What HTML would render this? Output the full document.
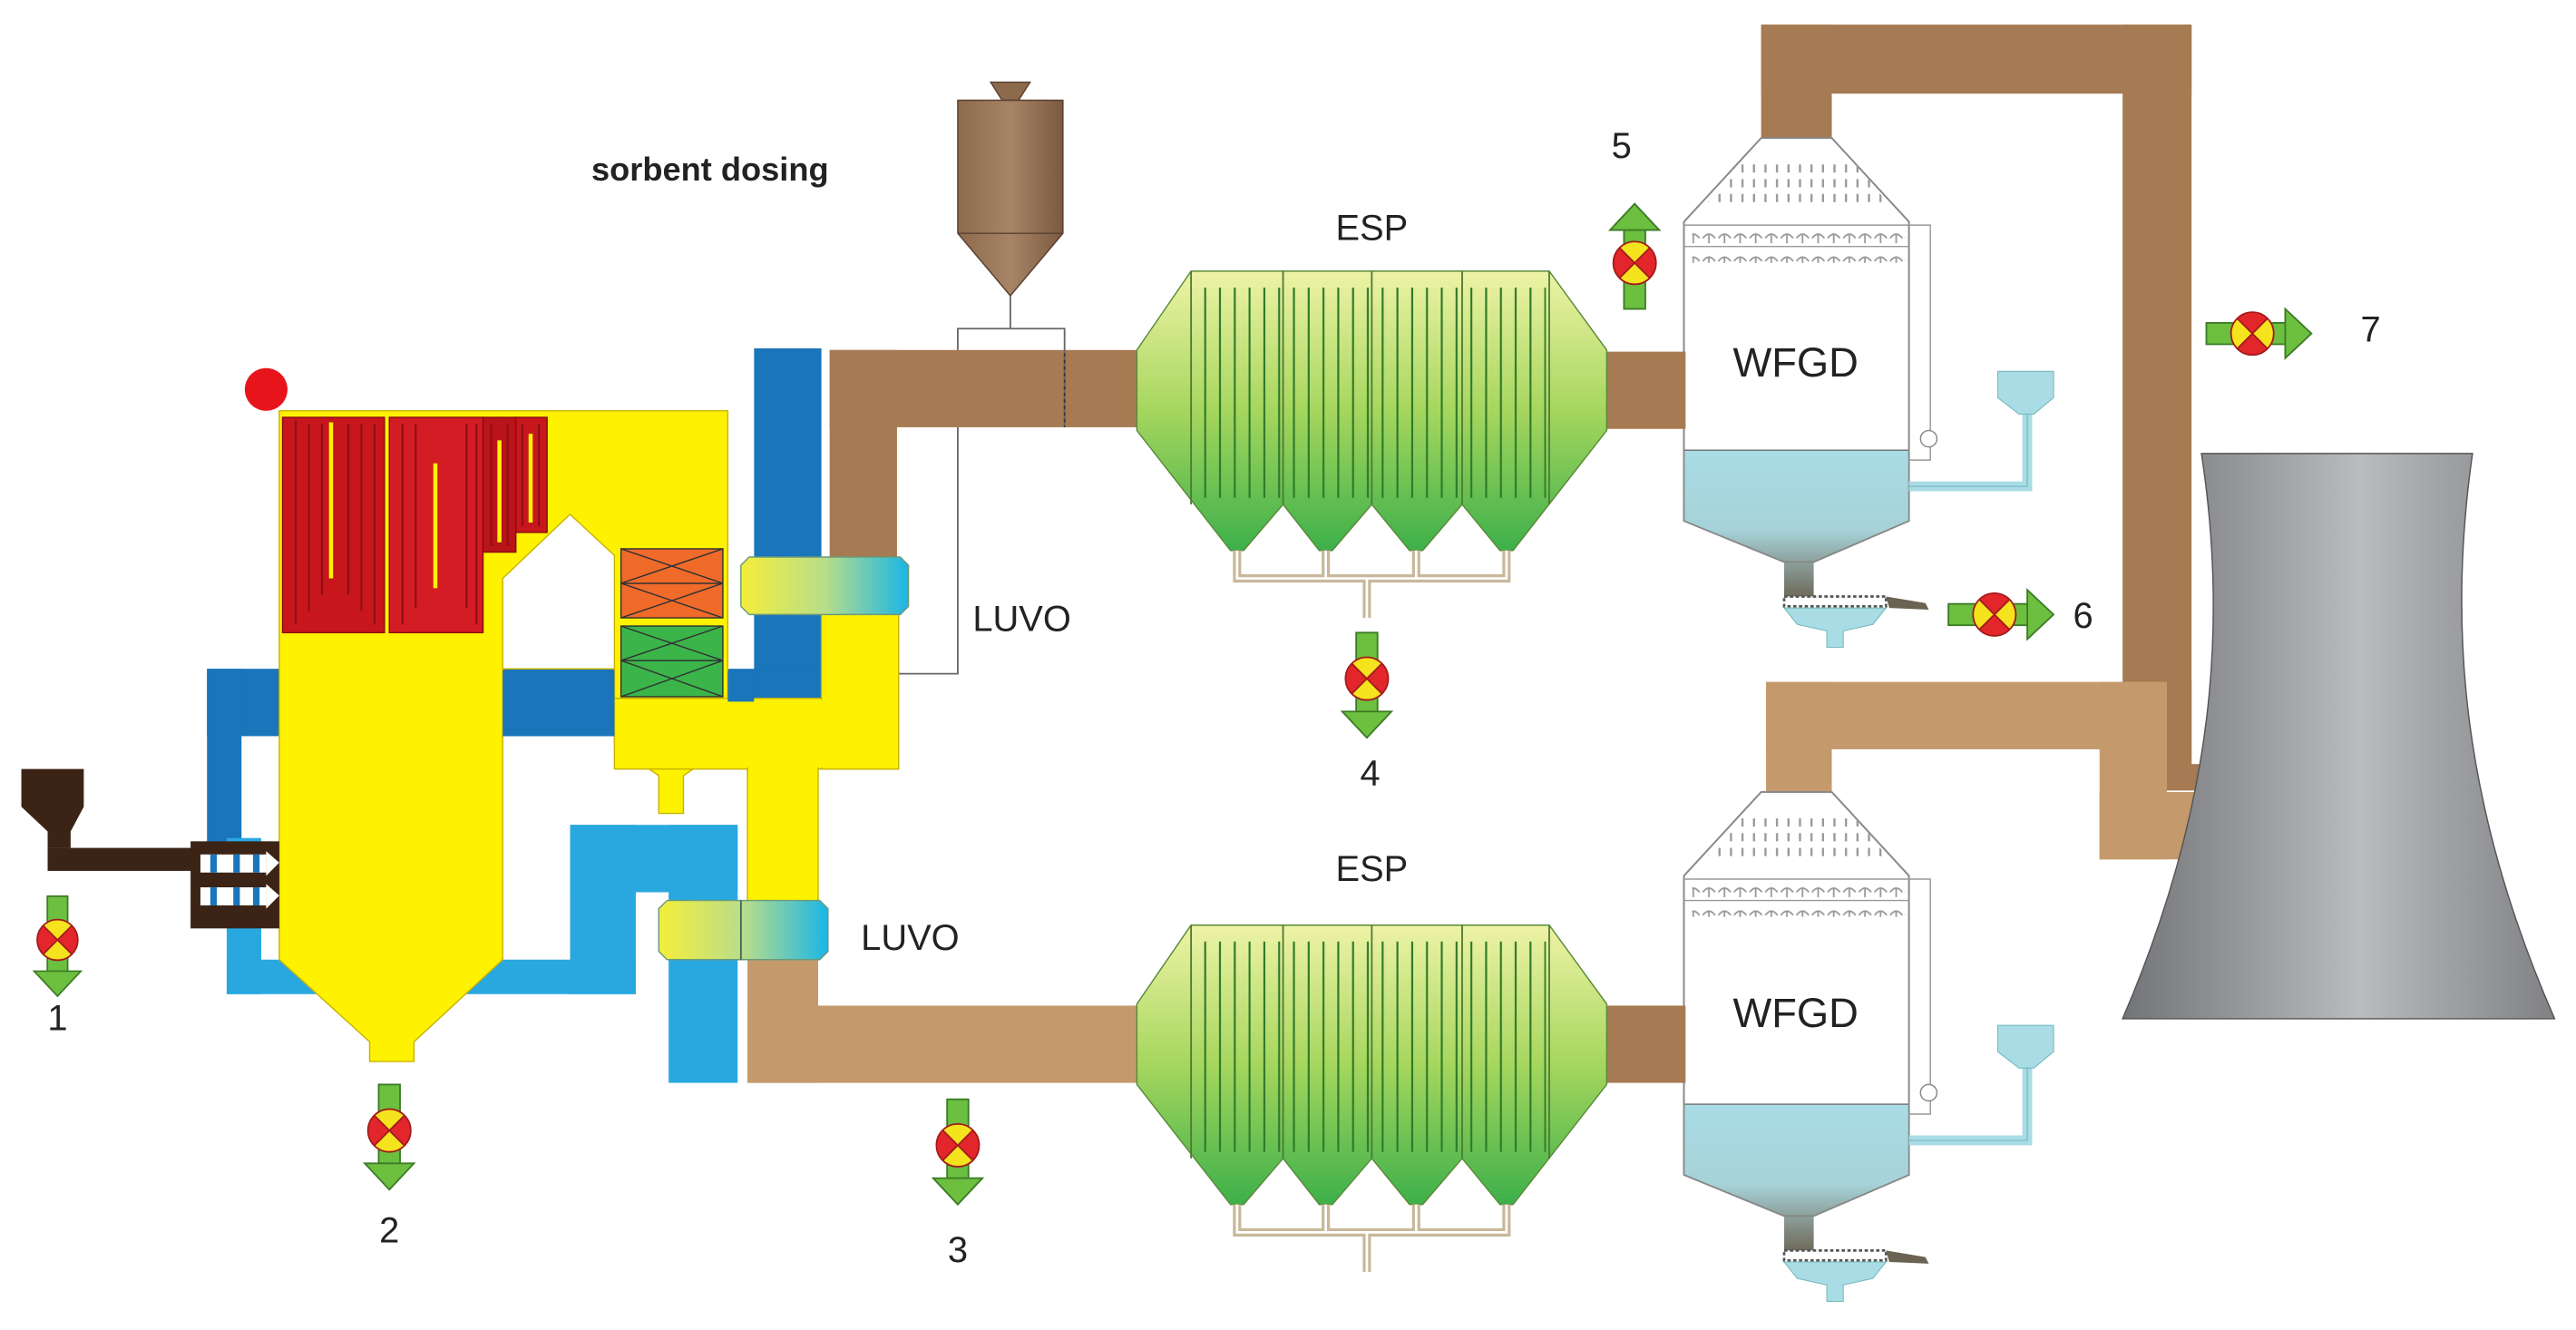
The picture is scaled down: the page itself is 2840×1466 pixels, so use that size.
<!DOCTYPE html>
<html><head><meta charset="utf-8">
<style>html,body{margin:0;padding:0;background:#fff}svg{display:block}</style></head>
<body>
<svg width="2840" height="1466" viewBox="0 0 1568 809.4" preserveAspectRatio="none" xmlns="http://www.w3.org/2000/svg" font-family="Liberation Sans, sans-serif">
<defs>
<linearGradient id="espg" x1="0" y1="0" x2="0" y2="1"><stop offset="0" stop-color="#eef3a6"/><stop offset="0.5" stop-color="#a6d65e"/><stop offset="1" stop-color="#3db04a"/></linearGradient>
<linearGradient id="luvo" x1="0" y1="0" x2="1" y2="0"><stop offset="0" stop-color="#f4ee3a"/><stop offset="0.5" stop-color="#b9dd8a"/><stop offset="1" stop-color="#1ab6e6"/></linearGradient>
<linearGradient id="silo" x1="0" y1="0" x2="1" y2="0"><stop offset="0" stop-color="#8c6a4c"/><stop offset="0.5" stop-color="#a88466"/><stop offset="1" stop-color="#7a5a40"/></linearGradient>
<linearGradient id="tower" x1="0" y1="0" x2="1" y2="0"><stop offset="0" stop-color="#737477"/><stop offset="0.55" stop-color="#b9bbbe"/><stop offset="1" stop-color="#808184"/></linearGradient>
<linearGradient id="liq" x1="0" y1="0" x2="0" y2="1"><stop offset="0" stop-color="#a9dce5"/><stop offset="0.55" stop-color="#a6d2d8"/><stop offset="1" stop-color="#6f6a5a"/></linearGradient>
<pattern id="espl" width="9" height="10" patternUnits="userSpaceOnUse"><rect x="4" y="0" width="1.2" height="10" fill="#2f7a2a"/></pattern>
<pattern id="dots" width="7" height="9" patternUnits="userSpaceOnUse"><rect x="3" y="1" width="1.3" height="5" fill="#999"/></pattern>
<pattern id="spr" width="9.5" height="14" patternUnits="userSpaceOnUse"><path d="M1,5 Q4.7,0 8.5,5 M4.7,3 V8" stroke="#999" stroke-width="1" fill="none"/></pattern>
<g id="valve">
<rect x="-6.5" y="-28" width="13" height="50" fill="#6cbf3f" stroke="#3b7a25" stroke-width="1"/>
<polygon points="-15,20 15,20 0,36" fill="#6cbf3f" stroke="#3b7a25" stroke-width="1"/>
<circle r="13" fill="#f5e31d"/>
<path d="M0,0 L-9.2,-9.2 A13,13 0 0 0 -9.2,9.2 Z M0,0 L9.2,-9.2 A13,13 0 0 1 9.2,9.2 Z" fill="#e3262b"/>
<path d="M-9.2,-9.2 L9.2,9.2 M9.2,-9.2 L-9.2,9.2" stroke="#a21b1b" stroke-width="1"/>
<circle r="13" fill="none" stroke="#a21b1b" stroke-width="1"/>
</g>
<g id="esp">
<polygon points="692,213 725,165 943,165 978,213 978,262 921,335 913,335 890,307 866,335 858,335 835,307 811,335 803,335 781,307 757,335 749,335 692,262" fill="url(#espg)" stroke="#5a8a3a" stroke-width="0.8"/>
<rect x="727" y="175" width="214" height="128" fill="url(#espl)"/>
<path d="M725,165 V307 M781,165 V307 M835,165 V307 M890,165 V307 M943,165 V307" stroke="#4d7a33" stroke-width="1"/>
<path d="M753,335 V352 H917 V335 M807,335 V352 M862,335 V352 M832,352 V376" stroke="#c8b89a" stroke-width="5" fill="none"/>
<path d="M753,335 V352 H917 V335 M807,335 V352 M862,335 V352 M832,352 V376" stroke="#fff" stroke-width="1.5" fill="none"/>
</g>
<g id="wfgd">
<polygon points="1072,84 1115,84 1162,135 1162,317 1104,342 1086,342 1025,317 1025,135" fill="#fff" stroke="#888" stroke-width="1"/>
<polygon points="1025,274 1162,274 1162,317 1104,342 1104,363 1086,363 1086,342 1025,317" fill="url(#liq)"/>
<path d="M1025,274 H1162" stroke="#777" stroke-width="0.8"/>
<polygon points="1072,84 1115,84 1162,135 1162,317 1104,342 1086,342 1025,317 1025,135" fill="none" stroke="#888" stroke-width="1"/>
<polygon points="1060,100 1130,100 1150,125 1038,125" fill="url(#dots)"/>
<rect x="1030" y="138" width="130" height="22" fill="url(#spr)"/>
<path d="M1025,137 H1175 V280 H1162 M1025,150 H1162" stroke="#999" stroke-width="0.8" fill="none"/>
<circle cx="1174" cy="267" r="5" fill="#fff" stroke="#888" stroke-width="0.8"/>
<path d="M1162,296 H1234 V252" stroke="#a9dce5" stroke-width="6" fill="none"/>
<path d="M1162,296 H1234 V252" stroke="#6fb3c2" stroke-width="0.6" fill="none"/>
<polygon points="1216,226 1250,226 1250,242 1238,252 1229,252 1216,242" fill="#a9dce5" stroke="#7bb" stroke-width="0.6"/>
<rect x="1086" y="363" width="62" height="6" fill="#fff" stroke="#555" stroke-width="1.5" stroke-dasharray="2 1.5"/>
<polygon points="1148,363 1172,367 1174,371 1150,370" fill="#6a6252"/>
<polygon points="1086,370 1148,370 1140,380 1122,384 1122,394 1112,394 1112,384 1094,380" fill="#a9dce5" stroke="#7bb" stroke-width="0.6"/>
</g>
</defs>

<rect x="1072" y="15" width="43" height="70" fill="#a67a52"/>
<rect x="1072" y="15" width="262" height="42" fill="#a67a52"/>
<rect x="1292" y="15" width="42" height="466" fill="#a67a52"/>
<rect x="1292" y="465" width="55" height="16" fill="#a67a52"/>
<rect x="1075" y="415" width="244" height="41" fill="#c49a6c"/>
<rect x="1075" y="415" width="40" height="68" fill="#c49a6c"/>
<rect x="1278" y="415" width="41" height="108" fill="#c49a6c"/>
<rect x="1278" y="482" width="70" height="41" fill="#c49a6c"/>
<rect x="1319" y="415" width="15" height="66" fill="#a67a52"/>

<path d="M1340,276 L1505,276 C1490,380 1498,490 1555,620 L1292,620 C1348,490 1356,380 1340,276 Z" fill="url(#tower)" stroke="#555" stroke-width="0.8"/>

<use href="#wfgd"/>
<use href="#wfgd" transform="translate(0,398)"/>
<text x="1093" y="229" font-size="25" text-anchor="middle" fill="#222">WFGD</text>
<text x="1093" y="625" font-size="25" text-anchor="middle" fill="#222">WFGD</text>

<rect x="976" y="214" width="50" height="47" fill="#a67a52"/>
<rect x="976" y="612" width="50" height="47" fill="#a67a52"/>

<rect x="505" y="213" width="190" height="47" fill="#a67a52"/>
<rect x="505" y="213" width="41" height="130" fill="#a67a52"/>
<rect x="455" y="580" width="43" height="79" fill="#c49a6c"/>
<rect x="455" y="612" width="240" height="47" fill="#c49a6c"/>

<use href="#esp"/>
<use href="#esp" transform="translate(0,398)"/>

<polygon points="603,50 627,50 620,61 610,61" fill="#8c6a4c" stroke="#5a4030" stroke-width="0.8"/>
<polygon points="583,61 647,61 647,142 615,180 583,142" fill="url(#silo)" stroke="#5a4030" stroke-width="0.8"/>
<path d="M583,142 H647" stroke="#5a4030" stroke-width="0.8"/>
<path d="M615,180 V200 M583,213 V200 H648 V260 M583,260 V410 H510" stroke="#666" stroke-width="1" fill="none"/>
<path d="M648,215 v45" stroke="#333" stroke-width="1" stroke-dasharray="2 2"/>
<path d="M508,406 H546" stroke="#333" stroke-width="2" stroke-dasharray="1.5 1.5"/>

<rect x="459" y="212" width="41" height="216" fill="#1b75bb"/>
<rect x="306" y="407" width="194" height="41" fill="#1b75bb"/>
<rect x="126" y="407" width="46" height="41" fill="#1b75bb"/>
<rect x="126" y="407" width="21" height="108" fill="#1b75bb"/>
<rect x="138" y="510" width="21" height="95" fill="#29a8e0"/>
<rect x="138" y="584" width="249" height="21" fill="#29a8e0"/>
<rect x="347" y="502" width="40" height="103" fill="#29a8e0"/>
<rect x="347" y="502" width="102" height="41" fill="#29a8e0"/>
<rect x="407" y="502" width="42" height="157" fill="#29a8e0"/>

<g fill="#fff200" stroke="#c8b400" stroke-width="0.8">
<polygon points="170,250 443,250 443,454 416,472 416,495 401,495 401,472 374,454 374,407 306,407 306,584 252,634 252,646 225,646 225,634 170,584"/>
<rect x="374" y="425" width="173" height="43"/>
<rect x="455" y="466" width="43" height="86"/>
<rect x="500" y="372" width="47" height="96"/>
</g>
<rect x="375" y="426" width="171" height="41" fill="#fff200"/>
<rect x="456" y="460" width="41" height="91" fill="#fff200"/>
<polygon points="306,352 347,313 374,338 374,407 306,407" fill="#fff" stroke="#c8b400" stroke-width="0.8"/>
<rect x="306" y="408" width="68" height="40" fill="#1b75bb"/>
<rect x="443" y="408" width="16" height="19" fill="#1b75bb"/>

<g stroke="#8a0c12" stroke-width="0.8">
<rect x="172" y="254" width="62" height="131" fill="#c8161d"/>
<rect x="237" y="254" width="57" height="131" fill="#d41c24"/>
<rect x="294" y="254" width="20" height="82" fill="#b8141a"/>
<rect x="314" y="254" width="19" height="70" fill="#c8161d"/>
</g>
<path d="M180,256 V380 M188,258 V372 M196,258 V362 M212,258 V362 M220,258 V372 M228,258 V380 M245,258 V380 M253,258 V370 M284,258 V370 M290,258 V380 M299,258 V332 M309,258 V332 M318,258 V320 M328,258 V320" stroke="#8e0f14" stroke-width="1.2"/>
<path d="M201.5,257 V352 M265,282 V358 M304,268 V330 M323,264 V318" stroke="#fff200" stroke-width="2.5"/>

<g stroke="#333" stroke-width="0.8">
<rect x="378" y="334" width="62" height="42" fill="#f06a2a"/>
<path d="M378,334 L440,355 M440,334 L378,355 M378,355 L440,376 M440,355 L378,376 M378,355 H440"/>
<rect x="378" y="381" width="62" height="43" fill="#3bb54a"/>
<path d="M378,381 L440,402 M440,381 L378,402 M378,402 L440,424 M440,402 L378,424 M378,402 H440"/>
</g>

<path d="M456,339 H548 L553,344 V369 L548,374 H456 L451,369 V344 Z" fill="url(#luvo)" stroke="#6a9a7a" stroke-width="0.8"/>
<path d="M406,548 H499 L504,553 V579 L499,584 H406 L401,579 V553 Z" fill="url(#luvo)" stroke="#6a9a7a" stroke-width="0.8"/>
<path d="M451,548 V584" stroke="#3a6a5a" stroke-width="1"/>

<circle cx="162" cy="237" r="13" fill="#e8141b"/>

<g fill="#3b2416">
<polygon points="13,468 51,468 51,491 43,506 43,516 29,516 29,506 13,491"/>
<rect x="29" y="516" width="90" height="14"/>
<rect x="116" y="512" width="54" height="53"/>
</g>
<rect x="122" y="520" width="40" height="11" fill="#fff"/>
<rect x="122" y="540" width="40" height="11" fill="#fff"/>
<rect x="128" y="520" width="4" height="11" fill="#1b75bb"/><rect x="142" y="520" width="4" height="11" fill="#1b75bb"/><rect x="154" y="520" width="4" height="11" fill="#1b75bb"/>
<rect x="128" y="540" width="4" height="11" fill="#1b75bb"/><rect x="142" y="540" width="4" height="11" fill="#1b75bb"/><rect x="154" y="540" width="4" height="11" fill="#1b75bb"/>
<polygon points="162,518 170,525 162,533" fill="#fff"/><polygon points="162,538 170,545 162,553" fill="#fff"/>

<use href="#valve" transform="translate(35,572) scale(0.95)"/>
<use href="#valve" transform="translate(237,688)"/>
<use href="#valve" transform="translate(583,697)"/>
<use href="#valve" transform="translate(832,413)"/>
<use href="#valve" transform="translate(995,160) rotate(180)"/>
<use href="#valve" transform="translate(1214,374) rotate(-90)"/>
<use href="#valve" transform="translate(1371,203) rotate(-90)"/>

<g font-size="22" fill="#222" text-anchor="middle">
<text x="35" y="627">1</text>
<text x="237" y="756">2</text>
<text x="583" y="768">3</text>
<text x="834" y="478">4</text>
<text x="987" y="96">5</text>
<text x="1268" y="382">6</text>
<text x="1443" y="208">7</text>
<text x="835" y="146">ESP</text>
<text x="835" y="536">ESP</text>
<text x="622" y="384">LUVO</text>
<text x="554" y="578">LUVO</text>
</g>
<text x="360" y="110" font-size="20" font-weight="bold" fill="#222">sorbent dosing</text>
</svg>
</body></html>
